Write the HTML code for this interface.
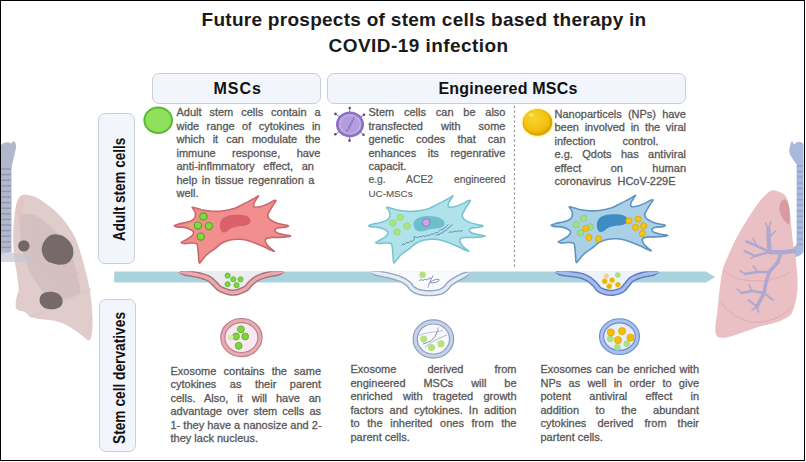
<!DOCTYPE html>
<html><head><meta charset="utf-8">
<style>
html,body{margin:0;padding:0;background:#fff;}
body{width:806px;height:462px;position:relative;overflow:hidden;font-family:"Liberation Sans",sans-serif;}
.frame{position:absolute;left:0;top:0;width:805px;height:461px;box-sizing:border-box;border:1px solid #000;z-index:10;pointer-events:none;}
.t{position:absolute;white-space:nowrap;font-weight:bold;color:#1a1a1a;font-size:19px;}
.hbox{position:absolute;box-sizing:border-box;border:1.5px solid #c9ced8;background:#f2f6fc;border-radius:7px;}
.hl{position:absolute;white-space:nowrap;font-weight:bold;color:#111;font-size:16px;}
.vl{position:absolute;white-space:nowrap;font-weight:bold;color:#111;font-size:16.5px;line-height:19px;transform-origin:0 0;}
.p{position:absolute;color:#555;font-size:11px;line-height:13.5px;-webkit-text-stroke:0.3px #5c5c5c;}
.p div{white-space:nowrap;height:13.5px;}
.p .j{text-align:justify;text-align-last:justify;}
svg{position:absolute;left:0;top:0;}
</style></head><body>
<svg width="806" height="462" viewBox="0 0 806 462">
<defs>
<path id="cell" d="M174.3,225.5 C174.6,225.0 176.7,224.5 178.6,224.0 C180.5,223.5 183.6,223.2 185.7,222.6 C187.8,222.0 189.9,221.5 191.4,220.7 C192.9,219.9 194.1,218.8 194.8,217.6 C195.5,216.4 195.5,214.8 195.4,213.5 C195.3,212.2 194.6,211.1 194.0,210.0 C193.4,208.9 191.8,207.5 192.1,207.2 C192.3,206.9 193.9,207.6 195.5,208.0 C197.1,208.4 199.5,209.2 201.4,209.7 C203.3,210.1 204.8,210.4 207.1,210.7 C209.4,211.0 212.2,211.4 215.0,211.4 C217.8,211.4 220.8,211.3 224.0,210.8 C227.2,210.3 231.3,209.4 234.0,208.6 C236.7,207.8 238.1,206.8 240.0,205.8 C241.9,204.9 243.8,203.9 245.7,202.9 C247.6,201.9 249.8,200.9 251.5,200.0 C253.2,199.1 254.9,197.9 256.1,197.2 C257.3,196.5 258.5,195.5 258.6,195.8 C258.7,196.1 257.2,198.0 256.5,199.0 C255.8,200.0 255.1,201.0 254.6,202.0 C254.1,203.0 253.6,204.3 253.6,205.2 C253.6,206.1 253.6,207.0 254.8,207.2 C256.0,207.4 258.4,207.2 260.7,206.6 C263.0,206.0 266.6,204.4 268.7,203.4 C270.8,202.4 272.3,201.3 273.5,200.8 C274.7,200.3 275.8,200.2 276.0,200.5 C276.2,200.8 275.4,201.7 274.8,202.6 C274.2,203.5 273.3,204.7 272.5,206.0 C271.7,207.3 270.7,209.0 269.9,210.4 C269.1,211.8 268.2,213.1 267.9,214.3 C267.6,215.5 267.8,216.4 268.3,217.4 C268.8,218.4 269.4,219.3 271.0,220.3 C272.6,221.3 275.4,222.6 277.9,223.4 C280.4,224.2 284.1,224.7 285.9,225.1 C287.7,225.5 288.6,225.7 288.6,226.0 C288.6,226.3 287.5,226.8 285.9,227.1 C284.3,227.4 280.7,227.4 279.0,227.7 C277.3,228.0 276.2,228.4 275.5,228.9 C274.8,229.4 274.6,230.1 275.0,230.8 C275.4,231.5 276.1,232.6 277.9,233.3 C279.7,234.0 283.8,234.6 285.9,235.0 C288.0,235.4 290.8,235.6 290.8,235.9 C290.8,236.2 288.0,236.7 285.9,236.9 C283.8,237.2 280.6,237.3 277.9,237.4 C275.2,237.5 272.0,237.2 269.9,237.6 C267.8,237.9 266.0,238.5 265.4,239.5 C264.8,240.5 265.7,242.4 266.5,243.8 C267.3,245.2 268.7,246.6 270.0,247.8 C271.3,249.0 274.4,250.9 274.4,251.2 C274.4,251.5 271.7,250.5 270.0,249.8 C268.3,249.1 266.0,247.7 264.0,246.8 C262.0,245.9 260.4,245.2 258.0,244.2 C255.6,243.2 252.6,241.7 249.5,240.9 C246.4,240.1 242.9,239.5 239.7,239.3 C236.4,239.2 232.9,239.4 230.0,240.0 C227.1,240.6 224.5,241.6 222.0,243.0 C219.5,244.4 217.5,246.7 215.0,248.6 C212.5,250.5 209.2,252.4 207.1,254.3 C204.9,256.2 203.4,258.6 202.1,260.0 C200.8,261.4 199.9,263.5 199.3,263.0 C198.7,262.5 198.8,259.5 198.6,257.1 C198.4,254.7 198.2,250.8 197.9,248.6 C197.6,246.3 197.7,244.5 196.6,243.6 C195.5,242.7 193.4,243.0 191.4,243.0 C189.4,243.0 186.0,243.7 184.3,243.6 C182.6,243.5 181.1,242.9 181.3,242.3 C181.5,241.7 184.0,241.0 185.7,240.0 C187.4,239.0 190.1,237.7 191.4,236.4 C192.7,235.1 193.8,233.6 193.6,232.4 C193.4,231.2 191.6,230.1 190.0,229.3 C188.4,228.5 186.5,227.8 184.3,227.4 C182.2,227.0 178.8,227.2 177.1,226.9 C175.4,226.6 174.1,226.0 174.3,225.5 Z"/>
<path id="nuc" d="M220.3,229.0 C219.9,227.5 219.6,225.3 220.0,223.5 C220.4,221.7 221.3,219.7 222.8,218.3 C224.3,217.0 226.5,216.0 229.0,215.4 C231.5,214.8 235.2,214.7 238.0,214.8 C240.8,214.9 243.9,215.1 246.0,215.8 C248.1,216.6 249.7,218.1 250.3,219.3 C250.9,220.6 250.6,222.3 249.8,223.3 C249.0,224.3 247.4,224.9 245.5,225.4 C243.6,225.9 240.8,225.8 238.5,226.3 C236.2,226.8 233.5,227.3 231.5,228.2 C229.5,229.1 228.0,231.1 226.5,231.8 C225.0,232.5 223.5,232.8 222.5,232.3 C221.5,231.8 220.7,230.5 220.3,229.0 Z"/>
<radialGradient id="np" cx="0.4" cy="0.35" r="0.7">
 <stop offset="0" stop-color="#f9d330"/><stop offset="0.75" stop-color="#f2c010"/><stop offset="1" stop-color="#e6b000"/>
</radialGradient>
<clipPath id="below"><rect x="100" y="271.2" width="620" height="40"/></clipPath>
<filter id="soft" x="-20%" y="-20%" width="140%" height="140%"><feGaussianBlur stdDeviation="0.45"/></filter>
</defs>
<!-- arrow bar -->
<path d="M114.2,271.6 L706,271.6 L715.2,277.1 L706,282.6 L114.2,282.6 Z" fill="#a9d3dc"/>
<!-- dashed line -->
<line x1="514.5" y1="106" x2="514.5" y2="267" stroke="#8a8a8a" stroke-width="1.2" stroke-dasharray="2 2.8"/>

<!-- red cell -->
<g>
 <use href="#cell" fill="#f28e8e" stroke="#c9686e" stroke-width="1.6"/>
 <use href="#nuc" fill="#d9626a"/>
 <ellipse cx="192" cy="225.5" rx="4" ry="3" fill="#e0b07a" opacity="0.7"/>
 <g fill="#82da3a" stroke="#55a32c" stroke-width="1.2">
  <circle cx="203.3" cy="216.4" r="3.6"/><circle cx="197.9" cy="225.6" r="3.6"/><circle cx="208.9" cy="226.1" r="3.6"/><circle cx="200.8" cy="236.6" r="3.6"/>
 </g>
</g>
<!-- cyan cell -->
<g transform="translate(194.5,0)">
 <use href="#cell" fill="#b0e2eb" stroke="#74c3cf" stroke-width="1.5"/>
 <path d="M219.5,227 C217,220 224,216 233,216 C243,216 251,219 250,224 C249,229 243,228 237,229 C231,230 223,235 219.5,227 Z" fill="#6dbfcb"/>
 <g fill="#a8e484" stroke="#98da74" stroke-width="0.9">
  <circle cx="205.7" cy="217.4" r="3.3"/><circle cx="198.4" cy="222.9" r="3.3"/><circle cx="212.5" cy="225.9" r="3.3"/><circle cx="202.5" cy="232" r="3.3"/>
 </g>
 <circle cx="231.7" cy="222.5" r="3.9" fill="#c9a6e6" stroke="#9a72c4" stroke-width="1"/>
 <path d="M207,245.5 L208.5,244 L210,244.5 L212,242.5 L214,243 L216,241 L218,241.5 L219.5,240 C221,238.5 218,237.5 219.5,236.8 C221,236.3 222.5,238 223.5,237.5 L225.5,236.2 L227,237 L229,235.8 L231,236.4 L233,235 L235,235.6 L237,234 L239,234.3 L241,232.6 L243,232.8 L245,231 L246.5,229.5 L248,229.8 L249.5,227.8 L251,227.5 L252.5,225.5 L254,224.5 M241,236 L243,234.5 L244.5,235 L246,233 L248,233.2 L249.5,231 L251.5,230.5 L253,228.5 L255,227.5 L256.5,225.5 L258,224.5 M254,232.6 L256,231.8 L258,232.2 L260,231.2 L262,231.6 L264,230.8 L266,231.2 L268.5,230.6" fill="none" stroke="#3f7190" stroke-width="0.7"/>
</g>
<!-- blue cell -->
<g transform="translate(377,-0.5)">
 <use href="#cell" fill="#aad0e8" stroke="#5e95c0" stroke-width="1.6"/>
 <use href="#nuc" fill="#3d8cc3"/>
 <g fill="#9ee08a" stroke="#8acb7a" stroke-width="0.9">
  <circle cx="206.5" cy="218.8" r="3.2"/><circle cx="199.2" cy="225.3" r="3.2"/><circle cx="213" cy="227.4" r="3.2"/><circle cx="203.3" cy="233.4" r="3.2"/>
 </g>
 <g fill="#f3c416" stroke="#e0a800" stroke-width="0.9">
  <circle cx="208.6" cy="229" r="3.1"/><circle cx="211.9" cy="238" r="3.1"/><circle cx="221.6" cy="239.4" r="3.1"/><circle cx="252" cy="221.2" r="3.1"/><circle cx="261.2" cy="219.6" r="3.1"/><circle cx="258.5" cy="228" r="3.1"/><circle cx="266.6" cy="226.4" r="3.1"/><circle cx="265.3" cy="234" r="3.1"/>
 </g>
</g>

<!-- buds -->
<g clip-path="url(#below)">
 <path d="M178.0,272.2 C180.0,272.4 186.2,273.0 190.0,273.6 C193.8,274.2 197.8,274.9 201.0,275.8 C204.2,276.7 206.8,277.5 209.0,278.8 C211.2,280.1 212.6,281.8 214.5,283.5 C216.4,285.2 217.4,287.5 220.5,289.0 C223.6,290.5 228.8,292.7 232.9,292.7 C237.0,292.7 242.1,290.5 245.0,289.0 C247.9,287.5 248.7,285.2 250.5,283.5 C252.3,281.8 253.8,280.3 256.0,279.0 C258.2,277.7 261.0,276.5 264.0,275.6 C267.0,274.7 270.5,274.0 274.0,273.4 C277.5,272.8 283.2,272.4 285.0,272.2 L285.0,271 L178.0,271 Z" fill="#ececf0"/>
 <path d="M178.00,272.20 L178.55,272.59 L179.24,273.06 L180.06,273.60 L180.98,274.18 L181.98,274.75 L183.04,275.28 L184.15,275.73 L185.27,276.07 L186.40,276.29 L187.51,276.43 L188.55,276.57 L189.52,276.71 L190.46,276.86 L191.41,277.02 L192.35,277.18 L193.29,277.34 L194.23,277.52 L195.15,277.69 L196.05,277.87 L196.93,278.06 L197.79,278.25 L198.61,278.44 L199.41,278.64 L200.18,278.84 L200.92,279.05 L201.65,279.26 L202.35,279.47 L203.01,279.68 L203.65,279.89 L204.27,280.10 L204.85,280.32 L205.41,280.55 L205.95,280.78 L206.47,281.02 L206.96,281.28 L207.43,281.53 L207.85,281.78 L208.23,282.04 L208.60,282.32 L208.97,282.62 L209.34,282.95 L209.72,283.29 L210.11,283.67 L210.52,284.06 L210.95,284.48 L211.40,284.93 L211.89,285.39 L212.36,285.81 L212.74,286.17 L213.08,286.53 L213.44,286.93 L213.83,287.39 L214.26,287.89 L214.74,288.43 L215.27,289.00 L215.87,289.59 L216.55,290.18 L217.31,290.75 L218.16,291.31 L219.06,291.80 L219.96,292.24 L220.91,292.68 L221.93,293.13 L223.01,293.57 L224.15,294.00 L225.33,294.41 L226.54,294.80 L227.78,295.14 L229.05,295.42 L230.32,295.65 L231.61,295.80 L232.90,295.85 L234.19,295.80 L235.47,295.65 L236.74,295.42 L237.98,295.13 L239.20,294.79 L240.40,294.41 L241.55,293.99 L242.66,293.56 L243.71,293.11 L244.70,292.66 L245.62,292.22 L246.50,291.77 L247.38,291.26 L248.20,290.68 L248.94,290.08 L249.58,289.46 L250.13,288.86 L250.62,288.27 L251.04,287.73 L251.41,287.24 L251.75,286.80 L252.06,286.42 L252.34,286.10 L252.67,285.78 L253.09,285.40 L253.54,284.98 L253.96,284.58 L254.37,284.20 L254.77,283.84 L255.16,283.50 L255.54,283.17 L255.93,282.86 L256.32,282.56 L256.72,282.27 L257.14,281.99 L257.60,281.71 L258.10,281.43 L258.63,281.15 L259.18,280.87 L259.75,280.59 L260.34,280.32 L260.95,280.06 L261.57,279.80 L262.22,279.55 L262.88,279.30 L263.55,279.06 L264.24,278.83 L264.93,278.61 L265.64,278.40 L266.37,278.19 L267.12,277.99 L267.89,277.80 L268.67,277.62 L269.47,277.44 L270.29,277.27 L271.12,277.11 L271.95,276.95 L272.80,276.80 L273.65,276.65 L274.49,276.51 L275.36,276.38 L276.30,276.25 L277.30,276.09 L278.32,275.83 L279.35,275.47 L280.36,275.03 L281.33,274.53 L282.25,274.00 L283.10,273.47 L283.85,272.98 L284.49,272.55 L285.00,272.20 L285.00,272.20 L284.44,271.96 L283.73,271.66 L282.90,271.31 L281.97,270.95 L280.96,270.60 L279.89,270.30 L278.79,270.07 L277.68,269.93 L276.57,269.91 L275.50,270.00 L274.47,270.14 L273.51,270.29 L272.60,270.44 L271.71,270.59 L270.81,270.75 L269.92,270.92 L269.03,271.10 L268.15,271.28 L267.28,271.48 L266.41,271.68 L265.56,271.89 L264.71,272.11 L263.88,272.35 L263.07,272.59 L262.27,272.84 L261.49,273.11 L260.73,273.38 L259.97,273.66 L259.22,273.95 L258.49,274.26 L257.77,274.57 L257.07,274.89 L256.38,275.22 L255.71,275.56 L255.05,275.92 L254.40,276.29 L253.76,276.68 L253.15,277.08 L252.58,277.49 L252.03,277.91 L251.52,278.32 L251.03,278.74 L250.56,279.16 L250.11,279.57 L249.67,279.97 L249.24,280.38 L248.81,280.77 L248.33,281.22 L247.78,281.75 L247.26,282.34 L246.81,282.89 L246.41,283.41 L246.04,283.89 L245.71,284.33 L245.39,284.71 L245.07,285.06 L244.74,285.38 L244.39,285.67 L244.00,285.94 L243.50,286.23 L242.83,286.57 L242.04,286.95 L241.18,287.34 L240.28,287.72 L239.33,288.10 L238.37,288.44 L237.39,288.76 L236.42,289.03 L235.47,289.25 L234.55,289.42 L233.69,289.52 L232.90,289.55 L232.10,289.52 L231.23,289.42 L230.30,289.25 L229.32,289.03 L228.32,288.75 L227.31,288.44 L226.31,288.08 L225.33,287.71 L224.39,287.32 L223.49,286.93 L222.66,286.55 L221.94,286.20 L221.39,285.90 L220.94,285.60 L220.53,285.29 L220.14,284.95 L219.77,284.59 L219.40,284.19 L219.02,283.76 L218.62,283.29 L218.19,282.79 L217.71,282.26 L217.18,281.70 L216.64,281.19 L216.17,280.76 L215.76,280.38 L215.35,279.97 L214.92,279.56 L214.49,279.13 L214.03,278.69 L213.54,278.25 L213.03,277.80 L212.47,277.35 L211.88,276.91 L211.24,276.48 L210.57,276.07 L209.90,275.70 L209.22,275.36 L208.54,275.04 L207.84,274.74 L207.14,274.45 L206.42,274.18 L205.69,273.93 L204.95,273.68 L204.19,273.44 L203.42,273.21 L202.64,272.99 L201.82,272.76 L200.97,272.53 L200.09,272.32 L199.18,272.10 L198.26,271.90 L197.31,271.70 L196.35,271.51 L195.39,271.32 L194.41,271.14 L193.43,270.97 L192.44,270.80 L191.46,270.64 L190.48,270.49 L189.44,270.33 L188.33,270.18 L187.17,270.04 L185.99,269.98 L184.78,270.05 L183.59,270.25 L182.42,270.54 L181.32,270.89 L180.30,271.26 L179.39,271.63 L178.62,271.95 L178.00,272.20 Z" fill="#aa717a"/>
 <path d="M178.00,272.20 L178.57,272.41 L179.28,272.66 L180.13,272.95 L181.07,273.27 L182.10,273.60 L183.19,273.93 L184.31,274.24 L185.45,274.52 L186.59,274.77 L187.70,274.97 L188.76,275.13 L189.74,275.28 L190.69,275.43 L191.65,275.59 L192.60,275.75 L193.55,275.92 L194.49,276.09 L195.42,276.27 L196.34,276.45 L197.23,276.64 L198.11,276.83 L198.95,277.03 L199.77,277.23 L200.56,277.44 L201.32,277.65 L202.06,277.87 L202.77,278.08 L203.46,278.30 L204.12,278.52 L204.76,278.74 L205.38,278.97 L205.97,279.21 L206.55,279.46 L207.10,279.72 L207.64,279.99 L208.15,280.27 L208.63,280.56 L209.07,280.86 L209.49,281.18 L209.91,281.51 L210.31,281.86 L210.71,282.23 L211.12,282.62 L211.53,283.03 L211.96,283.45 L212.41,283.88 L212.88,284.32 L213.34,284.75 L213.76,285.14 L214.15,285.54 L214.53,285.98 L214.93,286.45 L215.36,286.94 L215.81,287.46 L216.31,287.99 L216.86,288.52 L217.47,289.05 L218.15,289.57 L218.90,290.06 L219.72,290.51 L220.58,290.93 L221.50,291.36 L222.49,291.79 L223.55,292.22 L224.65,292.64 L225.78,293.04 L226.95,293.41 L228.14,293.73 L229.33,294.00 L230.53,294.21 L231.72,294.35 L232.90,294.40 L234.07,294.35 L235.26,294.21 L236.44,294.00 L237.62,293.73 L238.79,293.40 L239.93,293.03 L241.04,292.64 L242.11,292.21 L243.13,291.78 L244.09,291.35 L244.98,290.92 L245.81,290.50 L246.60,290.04 L247.33,289.53 L247.97,289.00 L248.54,288.45 L249.04,287.90 L249.49,287.37 L249.89,286.85 L250.26,286.36 L250.61,285.90 L250.95,285.48 L251.29,285.10 L251.67,284.73 L252.10,284.33 L252.55,283.92 L252.97,283.52 L253.39,283.14 L253.80,282.76 L254.21,282.40 L254.62,282.05 L255.03,281.72 L255.46,281.39 L255.90,281.08 L256.37,280.77 L256.86,280.46 L257.40,280.16 L257.95,279.86 L258.53,279.57 L259.13,279.28 L259.75,279.00 L260.38,278.72 L261.03,278.45 L261.70,278.19 L262.38,277.94 L263.08,277.69 L263.78,277.45 L264.50,277.22 L265.23,277.00 L265.99,276.79 L266.76,276.59 L267.55,276.39 L268.35,276.21 L269.17,276.02 L270.00,275.85 L270.84,275.68 L271.69,275.52 L272.55,275.37 L273.41,275.22 L274.27,275.08 L275.16,274.93 L276.11,274.76 L277.12,274.55 L278.16,274.31 L279.20,274.04 L280.23,273.75 L281.23,273.45 L282.17,273.16 L283.04,272.87 L283.82,272.61 L284.48,272.38 L285.00,272.20 L285.00,272.20 L284.45,272.13 L283.76,272.03 L282.96,271.91 L282.05,271.79 L281.06,271.68 L280.02,271.57 L278.94,271.50 L277.84,271.46 L276.76,271.46 L275.69,271.50 L274.68,271.59 L273.73,271.72 L272.84,271.87 L271.96,272.02 L271.07,272.18 L270.20,272.35 L269.32,272.52 L268.46,272.70 L267.60,272.89 L266.75,273.09 L265.91,273.30 L265.09,273.51 L264.29,273.74 L263.50,273.98 L262.73,274.22 L261.97,274.48 L261.22,274.74 L260.49,275.02 L259.76,275.30 L259.06,275.59 L258.36,275.89 L257.68,276.20 L257.02,276.52 L256.38,276.85 L255.75,277.19 L255.14,277.54 L254.54,277.90 L253.98,278.27 L253.44,278.66 L252.93,279.05 L252.44,279.44 L251.98,279.84 L251.53,280.23 L251.09,280.63 L250.66,281.03 L250.23,281.44 L249.80,281.84 L249.33,282.27 L248.83,282.75 L248.37,283.28 L247.95,283.79 L247.56,284.29 L247.19,284.78 L246.84,285.23 L246.48,285.67 L246.11,286.08 L245.71,286.46 L245.27,286.82 L244.78,287.17 L244.19,287.50 L243.47,287.87 L242.65,288.27 L241.76,288.67 L240.82,289.07 L239.84,289.45 L238.83,289.82 L237.81,290.15 L236.78,290.43 L235.76,290.67 L234.76,290.85 L233.81,290.96 L232.90,291.00 L231.99,290.96 L231.02,290.85 L230.01,290.67 L228.97,290.43 L227.91,290.14 L226.85,289.81 L225.81,289.45 L224.80,289.06 L223.82,288.66 L222.90,288.26 L222.04,287.86 L221.28,287.49 L220.65,287.14 L220.10,286.79 L219.61,286.41 L219.16,286.02 L218.74,285.61 L218.33,285.17 L217.92,284.71 L217.52,284.24 L217.10,283.74 L216.65,283.24 L216.16,282.73 L215.66,282.25 L215.19,281.83 L214.76,281.42 L214.34,281.01 L213.91,280.60 L213.48,280.18 L213.04,279.75 L212.58,279.33 L212.09,278.91 L211.58,278.50 L211.04,278.09 L210.46,277.70 L209.85,277.33 L209.22,276.98 L208.59,276.66 L207.94,276.36 L207.29,276.08 L206.61,275.80 L205.93,275.55 L205.22,275.30 L204.50,275.06 L203.77,274.83 L203.01,274.60 L202.24,274.38 L201.44,274.16 L200.61,273.94 L199.75,273.73 L198.86,273.52 L197.95,273.32 L197.02,273.12 L196.08,272.93 L195.12,272.75 L194.15,272.57 L193.18,272.40 L192.21,272.23 L191.23,272.07 L190.26,271.92 L189.24,271.77 L188.14,271.64 L186.99,271.55 L185.81,271.52 L184.61,271.54 L183.44,271.59 L182.30,271.68 L181.23,271.79 L180.23,271.91 L179.35,272.03 L178.60,272.12 L178.00,272.20 Z" fill="#eba8ad"/>
 <g fill="#7fd63c" stroke="#5cb82c" stroke-width="0.8"><circle cx="227.6" cy="275.6" r="2.6"/><circle cx="233.3" cy="279.3" r="2.6"/><circle cx="240.5" cy="279.3" r="2.6"/><circle cx="227.6" cy="284.2" r="2.6"/><circle cx="236.6" cy="285.2" r="2.6"/></g>
</g>
<g clip-path="url(#below)">
 <path d="M369.5,272.0 C371.8,272.4 378.8,273.4 383.0,274.3 C387.2,275.2 391.7,276.2 395.0,277.2 C398.3,278.2 400.8,279.2 403.0,280.3 C405.2,281.4 406.9,282.6 408.5,284.0 C410.1,285.4 410.8,287.3 412.5,288.6 C414.2,289.9 416.2,291.2 419.0,292.0 C421.8,292.8 425.6,293.2 429.0,293.2 C432.4,293.2 436.8,292.8 439.5,292.0 C442.2,291.2 443.8,289.9 445.5,288.6 C447.2,287.3 447.9,285.4 449.5,284.0 C451.1,282.6 452.9,281.3 455.0,280.0 C457.1,278.7 459.3,277.6 462.0,276.3 C464.7,275.0 469.5,272.7 471.0,272.0 L471.0,271 L369.5,271 Z" fill="#f8fafc"/>
 <path d="M369.50,272.00 L370.10,272.47 L370.86,273.05 L371.75,273.71 L372.76,274.40 L373.87,275.08 L375.06,275.68 L376.30,276.17 L377.58,276.51 L378.87,276.73 L380.11,276.95 L381.29,277.17 L382.38,277.39 L383.42,277.60 L384.47,277.83 L385.52,278.05 L386.56,278.29 L387.59,278.52 L388.61,278.76 L389.60,279.01 L390.57,279.25 L391.51,279.49 L392.41,279.74 L393.28,279.98 L394.10,280.22 L394.87,280.46 L395.62,280.69 L396.32,280.93 L397.00,281.16 L397.64,281.40 L398.26,281.63 L398.86,281.87 L399.43,282.11 L399.99,282.35 L400.53,282.60 L401.06,282.85 L401.58,283.11 L402.08,283.37 L402.54,283.62 L402.99,283.88 L403.42,284.14 L403.83,284.40 L404.23,284.66 L404.61,284.93 L404.98,285.20 L405.35,285.48 L405.71,285.77 L406.07,286.07 L406.39,286.34 L406.64,286.58 L406.86,286.81 L407.09,287.08 L407.33,287.40 L407.60,287.76 L407.89,288.17 L408.21,288.61 L408.57,289.08 L408.98,289.58 L409.45,290.09 L409.99,290.61 L410.55,291.07 L411.07,291.47 L411.58,291.83 L412.11,292.20 L412.66,292.56 L413.24,292.92 L413.85,293.27 L414.49,293.61 L415.16,293.93 L415.86,294.24 L416.59,294.53 L417.36,294.79 L418.15,295.03 L418.96,295.25 L419.80,295.44 L420.67,295.61 L421.55,295.76 L422.46,295.90 L423.38,296.02 L424.31,296.12 L425.25,296.20 L426.20,296.26 L427.14,296.31 L428.07,296.34 L429.00,296.35 L429.94,296.34 L430.90,296.31 L431.87,296.27 L432.86,296.20 L433.86,296.12 L434.85,296.02 L435.82,295.90 L436.79,295.77 L437.72,295.61 L438.63,295.44 L439.51,295.25 L440.35,295.03 L441.16,294.79 L441.92,294.51 L442.64,294.21 L443.33,293.89 L443.96,293.55 L444.56,293.19 L445.12,292.83 L445.65,292.47 L446.14,292.10 L446.60,291.75 L447.04,291.40 L447.51,291.02 L448.03,290.57 L448.54,290.08 L448.99,289.58 L449.38,289.10 L449.74,288.65 L450.06,288.21 L450.36,287.82 L450.63,287.45 L450.89,287.12 L451.13,286.83 L451.37,286.57 L451.64,286.31 L451.97,286.02 L452.33,285.72 L452.70,285.41 L453.09,285.10 L453.49,284.80 L453.90,284.50 L454.33,284.20 L454.77,283.90 L455.22,283.59 L455.68,283.29 L456.16,282.99 L456.65,282.69 L457.13,282.39 L457.62,282.11 L458.13,281.82 L458.65,281.54 L459.18,281.25 L459.73,280.97 L460.30,280.68 L460.88,280.38 L461.48,280.08 L462.11,279.77 L462.75,279.45 L463.40,279.12 L464.10,278.78 L464.85,278.38 L465.63,277.89 L466.41,277.31 L467.17,276.65 L467.89,275.93 L468.57,275.17 L469.19,274.41 L469.76,273.69 L470.26,273.02 L470.67,272.45 L471.00,272.00 L471.00,272.00 L470.44,271.97 L469.74,271.93 L468.91,271.89 L467.99,271.86 L467.00,271.86 L465.99,271.91 L464.96,272.01 L463.96,272.19 L463.01,272.44 L462.12,272.75 L461.32,273.12 L460.60,273.48 L459.94,273.81 L459.30,274.13 L458.67,274.44 L458.05,274.75 L457.44,275.06 L456.83,275.37 L456.24,275.68 L455.65,276.00 L455.07,276.31 L454.49,276.64 L453.92,276.97 L453.35,277.31 L452.81,277.65 L452.27,277.99 L451.75,278.34 L451.23,278.68 L450.72,279.03 L450.22,279.39 L449.73,279.75 L449.24,280.12 L448.77,280.49 L448.30,280.87 L447.84,281.27 L447.36,281.69 L446.87,282.16 L446.41,282.66 L446.00,283.15 L445.63,283.62 L445.30,284.05 L445.00,284.46 L444.73,284.83 L444.47,285.16 L444.23,285.46 L443.99,285.71 L443.77,285.94 L443.49,286.18 L443.12,286.47 L442.73,286.78 L442.35,287.07 L441.98,287.34 L441.62,287.60 L441.25,287.83 L440.88,288.05 L440.49,288.26 L440.08,288.46 L439.65,288.64 L439.17,288.81 L438.65,288.97 L438.05,289.12 L437.38,289.27 L436.63,289.41 L435.84,289.54 L435.01,289.65 L434.15,289.76 L433.28,289.84 L432.40,289.92 L431.52,289.98 L430.65,290.02 L429.81,290.04 L429.00,290.05 L428.20,290.04 L427.39,290.02 L426.57,289.98 L425.75,289.92 L424.93,289.85 L424.12,289.76 L423.33,289.66 L422.56,289.54 L421.82,289.41 L421.11,289.27 L420.45,289.12 L419.85,288.97 L419.30,288.80 L418.78,288.62 L418.28,288.42 L417.80,288.21 L417.34,287.99 L416.90,287.75 L416.46,287.51 L416.04,287.25 L415.63,286.97 L415.22,286.69 L414.81,286.40 L414.45,286.13 L414.18,285.90 L413.96,285.69 L413.74,285.45 L413.50,285.16 L413.26,284.84 L412.99,284.47 L412.70,284.06 L412.37,283.62 L412.00,283.14 L411.59,282.65 L411.11,282.13 L410.61,281.66 L410.13,281.25 L409.69,280.88 L409.23,280.51 L408.76,280.15 L408.27,279.80 L407.77,279.45 L407.26,279.11 L406.73,278.78 L406.18,278.44 L405.61,278.12 L405.03,277.80 L404.42,277.49 L403.81,277.19 L403.19,276.89 L402.55,276.60 L401.90,276.32 L401.24,276.04 L400.55,275.77 L399.84,275.50 L399.11,275.23 L398.36,274.97 L397.57,274.70 L396.75,274.44 L395.90,274.18 L395.01,273.92 L394.08,273.66 L393.12,273.40 L392.13,273.14 L391.12,272.89 L390.08,272.64 L389.02,272.39 L387.95,272.14 L386.88,271.90 L385.79,271.67 L384.71,271.44 L383.62,271.21 L382.48,270.99 L381.25,270.76 L379.96,270.53 L378.64,270.30 L377.30,270.20 L375.94,270.26 L374.62,270.45 L373.35,270.75 L372.17,271.09 L371.12,271.44 L370.22,271.75 L369.50,272.00 Z" fill="#9aa6bf"/>
 <path d="M369.50,272.00 L370.13,272.27 L370.93,272.60 L371.87,272.98 L372.92,273.40 L374.07,273.83 L375.29,274.25 L376.55,274.64 L377.84,274.99 L379.12,275.29 L380.38,275.53 L381.56,275.75 L382.66,275.97 L383.72,276.18 L384.78,276.41 L385.83,276.64 L386.88,276.87 L387.92,277.11 L388.95,277.35 L389.95,277.60 L390.93,277.84 L391.88,278.09 L392.80,278.34 L393.68,278.58 L394.51,278.83 L395.31,279.07 L396.07,279.31 L396.79,279.56 L397.48,279.80 L398.15,280.04 L398.79,280.28 L399.40,280.53 L400.00,280.78 L400.58,281.03 L401.14,281.29 L401.69,281.55 L402.23,281.82 L402.75,282.09 L403.25,282.36 L403.73,282.63 L404.18,282.90 L404.62,283.18 L405.04,283.46 L405.45,283.75 L405.85,284.04 L406.24,284.34 L406.63,284.64 L407.01,284.96 L407.36,285.26 L407.67,285.55 L407.95,285.85 L408.22,286.18 L408.49,286.53 L408.77,286.91 L409.06,287.32 L409.37,287.74 L409.71,288.18 L410.08,288.63 L410.49,289.08 L410.95,289.52 L411.45,289.94 L411.93,290.30 L412.42,290.65 L412.92,291.00 L413.44,291.34 L413.98,291.67 L414.55,292.00 L415.15,292.32 L415.77,292.62 L416.42,292.90 L417.10,293.17 L417.80,293.41 L418.54,293.64 L419.31,293.84 L420.10,294.02 L420.93,294.18 L421.78,294.33 L422.66,294.46 L423.55,294.58 L424.45,294.67 L425.37,294.75 L426.28,294.82 L427.20,294.86 L428.10,294.89 L429.00,294.90 L429.91,294.89 L430.84,294.86 L431.79,294.82 L432.76,294.75 L433.72,294.67 L434.69,294.58 L435.64,294.46 L436.57,294.33 L437.47,294.19 L438.34,294.02 L439.17,293.84 L439.96,293.64 L440.70,293.41 L441.40,293.16 L442.05,292.89 L442.67,292.59 L443.25,292.28 L443.80,291.96 L444.32,291.63 L444.80,291.29 L445.27,290.94 L445.71,290.60 L446.14,290.26 L446.59,289.91 L447.05,289.51 L447.49,289.07 L447.89,288.63 L448.25,288.20 L448.59,287.77 L448.90,287.35 L449.19,286.95 L449.48,286.57 L449.76,286.21 L450.04,285.87 L450.34,285.56 L450.65,285.25 L451.02,284.93 L451.40,284.60 L451.80,284.28 L452.21,283.96 L452.62,283.64 L453.06,283.32 L453.50,283.01 L453.95,282.70 L454.42,282.38 L454.90,282.07 L455.39,281.76 L455.89,281.45 L456.39,281.15 L456.90,280.85 L457.42,280.55 L457.96,280.26 L458.50,279.97 L459.06,279.68 L459.64,279.38 L460.23,279.08 L460.83,278.78 L461.46,278.47 L462.10,278.15 L462.75,277.81 L463.43,277.42 L464.18,276.99 L464.96,276.50 L465.77,275.97 L466.58,275.41 L467.37,274.84 L468.14,274.26 L468.86,273.71 L469.52,273.19 L470.11,272.72 L470.61,272.32 L471.00,272.00 L471.00,272.00 L470.51,272.10 L469.88,272.23 L469.15,272.39 L468.32,272.57 L467.43,272.77 L466.50,273.00 L465.55,273.25 L464.60,273.53 L463.68,273.83 L462.80,274.15 L461.98,274.47 L461.25,274.79 L460.58,275.11 L459.94,275.43 L459.31,275.74 L458.70,276.05 L458.09,276.35 L457.50,276.66 L456.92,276.96 L456.34,277.27 L455.77,277.58 L455.21,277.90 L454.66,278.22 L454.11,278.55 L453.58,278.88 L453.06,279.21 L452.55,279.55 L452.05,279.88 L451.55,280.22 L451.07,280.56 L450.59,280.91 L450.13,281.27 L449.67,281.62 L449.22,281.99 L448.79,282.36 L448.35,282.75 L447.91,283.18 L447.49,283.62 L447.12,284.06 L446.78,284.50 L446.46,284.92 L446.17,285.32 L445.88,285.71 L445.60,286.07 L445.32,286.41 L445.04,286.72 L444.75,287.01 L444.41,287.29 L444.03,287.60 L443.62,287.92 L443.22,288.23 L442.83,288.52 L442.42,288.80 L442.01,289.07 L441.59,289.32 L441.14,289.56 L440.67,289.78 L440.17,289.99 L439.63,290.18 L439.04,290.36 L438.39,290.53 L437.67,290.69 L436.89,290.84 L436.06,290.97 L435.20,291.09 L434.31,291.20 L433.41,291.29 L432.50,291.36 L431.60,291.42 L430.71,291.47 L429.84,291.49 L429.00,291.50 L428.17,291.49 L427.33,291.47 L426.48,291.42 L425.63,291.36 L424.79,291.29 L423.95,291.20 L423.13,291.09 L422.33,290.97 L421.55,290.84 L420.81,290.69 L420.11,290.53 L419.46,290.36 L418.85,290.18 L418.27,289.98 L417.72,289.76 L417.19,289.53 L416.69,289.28 L416.20,289.02 L415.72,288.75 L415.26,288.47 L414.82,288.18 L414.38,287.87 L413.95,287.56 L413.55,287.26 L413.22,286.99 L412.92,286.71 L412.64,286.40 L412.37,286.07 L412.09,285.71 L411.81,285.32 L411.52,284.92 L411.21,284.49 L410.87,284.05 L410.50,283.60 L410.08,283.16 L409.64,282.74 L409.20,282.36 L408.77,282.00 L408.33,281.66 L407.89,281.32 L407.43,280.98 L406.96,280.65 L406.47,280.33 L405.97,280.01 L405.45,279.70 L404.91,279.39 L404.35,279.08 L403.77,278.78 L403.18,278.49 L402.58,278.21 L401.96,277.93 L401.33,277.65 L400.69,277.38 L400.02,277.12 L399.34,276.85 L398.63,276.59 L397.89,276.34 L397.12,276.08 L396.32,275.83 L395.49,275.57 L394.61,275.32 L393.70,275.06 L392.75,274.80 L391.77,274.55 L390.77,274.30 L389.74,274.05 L388.69,273.80 L387.63,273.56 L386.57,273.32 L385.49,273.08 L384.41,272.86 L383.34,272.63 L382.20,272.41 L380.99,272.18 L379.71,271.97 L378.38,271.82 L377.04,271.72 L375.71,271.69 L374.42,271.70 L373.19,271.75 L372.05,271.81 L371.04,271.89 L370.18,271.95 L369.50,272.00 Z" fill="#e0eef8"/>
 <circle cx="422.6" cy="274.8" r="3.2" fill="#b4e080"/>
 <path d="M419,281 L421,279.5 L423,280.5 L425,279 L427,280 L429,278.5 L431,278 M433,275.5 L432,277.5 L431,279 L430.5,281 L429.5,283 L428.5,285.5 L428,287.5 M430,282.5 C433,280 436,279 439,279.5 C440,280.5 438,282 435,282.5 L431,283" stroke="#7f72aa" stroke-width="0.8" fill="none"/>
</g>
<g clip-path="url(#below)">
 <path d="M554.0,272.2 C556.2,272.4 562.7,273.1 567.0,273.6 C571.3,274.2 576.4,274.6 580.0,275.5 C583.6,276.4 586.0,277.5 588.5,279.0 C591.0,280.5 592.8,282.4 594.8,284.3 C596.8,286.2 597.8,288.9 600.5,290.3 C603.2,291.7 607.8,292.9 611.3,292.9 C614.8,292.9 619.0,291.5 621.5,290.2 C624.0,288.9 624.8,287.0 626.5,285.2 C628.2,283.4 629.4,281.0 631.5,279.5 C633.6,278.0 636.2,276.9 639.0,276.0 C641.8,275.1 644.5,274.4 648.0,273.8 C651.5,273.2 658.0,272.5 660.0,272.2 L660.0,271 L554.0,271 Z" fill="#eef3fb"/>
 <path d="M554.00,272.20 L554.59,272.61 L555.34,273.12 L556.21,273.69 L557.19,274.29 L558.27,274.88 L559.41,275.41 L560.62,275.85 L561.85,276.15 L563.10,276.31 L564.32,276.45 L565.50,276.59 L566.61,276.73 L567.72,276.86 L568.85,277.00 L569.99,277.13 L571.13,277.26 L572.26,277.40 L573.37,277.54 L574.47,277.69 L575.52,277.84 L576.54,278.01 L577.50,278.18 L578.40,278.36 L579.24,278.56 L580.03,278.77 L580.79,278.98 L581.50,279.21 L582.18,279.44 L582.82,279.69 L583.44,279.94 L584.04,280.20 L584.62,280.47 L585.19,280.76 L585.76,281.06 L586.32,281.38 L586.87,281.70 L587.39,282.02 L587.87,282.34 L588.34,282.69 L588.80,283.06 L589.27,283.44 L589.73,283.85 L590.20,284.27 L590.67,284.71 L591.14,285.16 L591.63,285.63 L592.13,286.11 L592.59,286.55 L592.97,286.93 L593.30,287.31 L593.65,287.76 L594.03,288.25 L594.43,288.80 L594.87,289.39 L595.37,290.01 L595.93,290.66 L596.57,291.31 L597.29,291.95 L598.12,292.55 L599.01,293.08 L599.91,293.52 L600.83,293.91 L601.79,294.28 L602.79,294.62 L603.81,294.92 L604.87,295.20 L605.93,295.45 L607.01,295.66 L608.10,295.82 L609.18,295.95 L610.25,296.03 L611.32,296.05 L612.39,296.01 L613.47,295.91 L614.53,295.76 L615.58,295.56 L616.61,295.32 L617.63,295.05 L618.61,294.76 L619.56,294.44 L620.47,294.10 L621.34,293.74 L622.16,293.38 L622.95,293.00 L623.74,292.56 L624.48,292.06 L625.15,291.53 L625.75,290.99 L626.27,290.45 L626.74,289.91 L627.15,289.41 L627.52,288.93 L627.86,288.48 L628.18,288.08 L628.49,287.70 L628.85,287.30 L629.30,286.80 L629.76,286.24 L630.18,285.70 L630.58,285.17 L630.97,284.67 L631.33,284.19 L631.69,283.74 L632.03,283.32 L632.37,282.94 L632.71,282.60 L633.04,282.30 L633.38,282.03 L633.78,281.75 L634.22,281.47 L634.70,281.19 L635.20,280.92 L635.73,280.66 L636.28,280.41 L636.86,280.16 L637.46,279.92 L638.08,279.68 L638.71,279.44 L639.36,279.21 L640.02,278.98 L640.66,278.76 L641.30,278.56 L641.95,278.37 L642.60,278.19 L643.27,278.01 L643.95,277.84 L644.66,277.68 L645.38,277.52 L646.13,277.36 L646.91,277.21 L647.72,277.05 L648.55,276.90 L649.44,276.75 L650.43,276.60 L651.51,276.44 L652.63,276.22 L653.76,275.88 L654.88,275.42 L655.96,274.87 L656.98,274.27 L657.92,273.67 L658.75,273.10 L659.45,272.60 L660.00,272.20 L660.00,272.20 L659.37,271.95 L658.57,271.64 L657.63,271.28 L656.58,270.91 L655.44,270.58 L654.24,270.31 L653.03,270.14 L651.81,270.10 L650.63,270.20 L649.50,270.36 L648.43,270.53 L647.45,270.70 L646.56,270.86 L645.71,271.03 L644.87,271.19 L644.06,271.36 L643.27,271.54 L642.48,271.72 L641.71,271.91 L640.95,272.11 L640.20,272.32 L639.46,272.54 L638.71,272.77 L637.98,273.02 L637.26,273.27 L636.56,273.52 L635.85,273.79 L635.14,274.06 L634.43,274.35 L633.72,274.65 L633.02,274.98 L632.32,275.32 L631.63,275.69 L630.95,276.08 L630.28,276.51 L629.62,276.97 L628.96,277.50 L628.34,278.06 L627.78,278.63 L627.26,279.21 L626.79,279.77 L626.36,280.33 L625.95,280.86 L625.56,281.37 L625.20,281.84 L624.85,282.29 L624.52,282.69 L624.15,283.10 L623.71,283.60 L623.27,284.13 L622.88,284.62 L622.53,285.08 L622.21,285.49 L621.91,285.86 L621.63,286.18 L621.36,286.47 L621.08,286.73 L620.78,286.96 L620.46,287.18 L620.05,287.40 L619.51,287.66 L618.88,287.94 L618.19,288.23 L617.46,288.50 L616.69,288.76 L615.90,289.00 L615.10,289.21 L614.29,289.39 L613.50,289.54 L612.72,289.66 L611.98,289.72 L611.28,289.75 L610.56,289.73 L609.77,289.68 L608.95,289.58 L608.10,289.45 L607.23,289.28 L606.37,289.09 L605.52,288.86 L604.70,288.61 L603.92,288.35 L603.19,288.07 L602.53,287.79 L601.99,287.52 L601.57,287.28 L601.23,287.03 L600.90,286.73 L600.56,286.39 L600.22,286.00 L599.86,285.55 L599.49,285.04 L599.08,284.50 L598.64,283.91 L598.15,283.29 L597.59,282.65 L597.01,282.05 L596.48,281.55 L595.99,281.08 L595.49,280.61 L594.99,280.12 L594.46,279.63 L593.92,279.14 L593.35,278.65 L592.77,278.16 L592.15,277.67 L591.50,277.20 L590.82,276.74 L590.13,276.30 L589.44,275.90 L588.77,275.53 L588.08,275.16 L587.37,274.81 L586.65,274.47 L585.90,274.14 L585.12,273.82 L584.32,273.52 L583.48,273.23 L582.62,272.96 L581.71,272.69 L580.76,272.44 L579.74,272.21 L578.68,271.99 L577.59,271.80 L576.48,271.62 L575.34,271.45 L574.19,271.30 L573.03,271.15 L571.87,271.01 L570.72,270.87 L569.59,270.74 L568.48,270.61 L567.39,270.47 L566.25,270.33 L565.04,270.19 L563.79,270.05 L562.52,269.94 L561.23,269.97 L559.96,270.15 L558.72,270.44 L557.55,270.80 L556.46,271.19 L555.49,271.58 L554.66,271.92 L554.00,272.20 Z" fill="#5f7dbd"/>
 <path d="M554.00,272.20 L554.61,272.42 L555.38,272.69 L556.28,273.00 L557.29,273.33 L558.39,273.68 L559.56,274.01 L560.78,274.33 L562.02,274.60 L563.26,274.83 L564.49,275.01 L565.67,275.15 L566.79,275.29 L567.89,275.42 L569.02,275.56 L570.16,275.69 L571.30,275.83 L572.44,275.96 L573.56,276.10 L574.67,276.25 L575.74,276.41 L576.78,276.58 L577.77,276.75 L578.71,276.95 L579.59,277.15 L580.42,277.37 L581.21,277.60 L581.96,277.83 L582.67,278.08 L583.35,278.34 L584.01,278.60 L584.64,278.88 L585.25,279.17 L585.86,279.47 L586.45,279.79 L587.04,280.12 L587.62,280.46 L588.18,280.80 L588.70,281.16 L589.22,281.54 L589.72,281.93 L590.21,282.34 L590.69,282.76 L591.18,283.20 L591.66,283.65 L592.14,284.11 L592.63,284.58 L593.13,285.06 L593.61,285.51 L594.03,285.94 L594.42,286.39 L594.80,286.87 L595.19,287.39 L595.59,287.94 L596.02,288.51 L596.48,289.09 L596.99,289.68 L597.56,290.26 L598.20,290.82 L598.92,291.34 L599.70,291.80 L600.52,292.20 L601.37,292.57 L602.28,292.91 L603.23,293.23 L604.21,293.53 L605.21,293.79 L606.23,294.03 L607.26,294.23 L608.29,294.39 L609.32,294.51 L610.32,294.58 L611.31,294.60 L612.30,294.56 L613.29,294.47 L614.29,294.33 L615.28,294.14 L616.27,293.92 L617.23,293.66 L618.17,293.38 L619.08,293.07 L619.95,292.75 L620.77,292.41 L621.55,292.07 L622.28,291.71 L622.98,291.32 L623.63,290.88 L624.22,290.42 L624.74,289.95 L625.20,289.46 L625.63,288.98 L626.01,288.51 L626.37,288.04 L626.71,287.60 L627.05,287.17 L627.39,286.76 L627.77,286.33 L628.20,285.85 L628.63,285.33 L629.04,284.81 L629.43,284.30 L629.81,283.79 L630.19,283.30 L630.56,282.82 L630.94,282.37 L631.31,281.95 L631.70,281.56 L632.10,281.20 L632.52,280.86 L632.98,280.54 L633.47,280.23 L633.99,279.93 L634.54,279.63 L635.10,279.35 L635.69,279.08 L636.30,278.82 L636.92,278.57 L637.56,278.32 L638.22,278.08 L638.88,277.84 L639.55,277.61 L640.21,277.39 L640.88,277.18 L641.54,276.98 L642.22,276.79 L642.91,276.61 L643.62,276.43 L644.34,276.27 L645.08,276.10 L645.84,275.94 L646.63,275.79 L647.45,275.63 L648.30,275.47 L649.21,275.32 L650.22,275.15 L651.30,274.94 L652.42,274.68 L653.57,274.38 L654.71,274.05 L655.82,273.70 L656.87,273.35 L657.84,273.00 L658.70,272.69 L659.43,272.42 L660.00,272.20 L660.00,272.20 L659.39,272.13 L658.62,272.04 L657.71,271.94 L656.69,271.84 L655.58,271.74 L654.41,271.67 L653.22,271.64 L652.02,271.65 L650.84,271.71 L649.72,271.81 L648.66,271.96 L647.70,272.13 L646.83,272.29 L645.98,272.45 L645.16,272.61 L644.37,272.78 L643.59,272.95 L642.82,273.13 L642.07,273.31 L641.33,273.51 L640.60,273.71 L639.88,273.93 L639.16,274.15 L638.45,274.39 L637.75,274.64 L637.05,274.89 L636.36,275.14 L635.67,275.41 L634.99,275.69 L634.31,275.98 L633.64,276.29 L632.98,276.61 L632.34,276.95 L631.71,277.32 L631.09,277.71 L630.48,278.14 L629.90,278.60 L629.34,279.11 L628.83,279.62 L628.36,280.15 L627.92,280.68 L627.50,281.21 L627.10,281.74 L626.72,282.24 L626.35,282.73 L625.98,283.20 L625.62,283.63 L625.23,284.07 L624.81,284.54 L624.40,285.03 L624.03,285.51 L623.68,285.96 L623.35,286.39 L623.02,286.79 L622.70,287.17 L622.37,287.51 L622.02,287.83 L621.64,288.13 L621.21,288.41 L620.72,288.69 L620.12,288.98 L619.44,289.28 L618.71,289.58 L617.94,289.86 L617.13,290.14 L616.30,290.39 L615.45,290.62 L614.59,290.81 L613.74,290.97 L612.89,291.10 L612.08,291.17 L611.29,291.20 L610.49,291.18 L609.64,291.12 L608.75,291.02 L607.85,290.88 L606.93,290.70 L606.03,290.49 L605.13,290.26 L604.26,290.00 L603.43,289.71 L602.65,289.42 L601.93,289.11 L601.30,288.80 L600.78,288.49 L600.32,288.16 L599.90,287.79 L599.49,287.37 L599.10,286.92 L598.72,286.43 L598.32,285.91 L597.92,285.36 L597.49,284.79 L597.03,284.21 L596.53,283.63 L595.99,283.09 L595.48,282.60 L594.99,282.13 L594.49,281.65 L593.99,281.18 L593.48,280.70 L592.96,280.22 L592.41,279.75 L591.85,279.29 L591.27,278.83 L590.67,278.38 L590.03,277.95 L589.38,277.54 L588.73,277.16 L588.08,276.80 L587.41,276.45 L586.74,276.11 L586.05,275.79 L585.33,275.47 L584.59,275.17 L583.82,274.88 L583.03,274.61 L582.20,274.34 L581.33,274.09 L580.41,273.85 L579.44,273.62 L578.41,273.42 L577.35,273.22 L576.26,273.05 L575.14,272.89 L574.00,272.73 L572.85,272.59 L571.70,272.45 L570.55,272.31 L569.42,272.18 L568.30,272.05 L567.21,271.91 L566.08,271.77 L564.88,271.63 L563.63,271.53 L562.35,271.48 L561.07,271.49 L559.82,271.55 L558.60,271.64 L557.45,271.76 L556.39,271.88 L555.45,272.01 L554.64,272.11 L554.00,272.20 Z" fill="#a4bcec"/>
 <g fill="#f0b400" stroke="#f6d860" stroke-width="0.6"><circle cx="604.7" cy="281.3" r="2.7"/><circle cx="612.1" cy="280.1" r="2.7"/><circle cx="609.2" cy="286.3" r="2.7"/><circle cx="617.9" cy="284.6" r="2.7"/></g>
 <circle cx="617.8" cy="275" r="2.8" fill="#a9de88"/><circle cx="606.3" cy="276" r="2.5" fill="#ecd498"/>
</g>

<!-- exosomes -->
<g>
 <ellipse cx="241.4" cy="337.6" rx="18.6" ry="17" fill="#f9e8f2" stroke="#b88089" stroke-width="5.3"/>
 <ellipse cx="241.4" cy="337.6" rx="18.6" ry="17" fill="none" stroke="#eaaab4" stroke-width="3"/>
 <g fill="#7fd63c" stroke="#5cb82c" stroke-width="1"><circle cx="240.9" cy="329.3" r="3.4"/><circle cx="236" cy="336.5" r="3.4"/><circle cx="245.2" cy="336.5" r="3.4"/><circle cx="238.7" cy="345.8" r="3.4"/></g>
 <circle cx="230.5" cy="337.5" r="3" fill="#d6e8b0"/>
</g>
<g>
 <ellipse cx="433.4" cy="339" rx="18.2" ry="17.1" fill="#f7f8fc" stroke="#8c9cbe" stroke-width="5.3"/>
 <ellipse cx="433.4" cy="339" rx="18.2" ry="17.1" fill="none" stroke="#c6d2e8" stroke-width="3"/>
 <g fill="#b4e27c"><circle cx="423.7" cy="339" r="3.5"/><circle cx="431.5" cy="347.4" r="3.5"/><circle cx="441" cy="343.8" r="3.5"/></g>
 <path d="M419,335.5 C423,333 427,333.5 430,332.5 C434,331.5 438,332.5 443,330" stroke="#b7acd4" stroke-width="0.8" fill="none"/>
 <path d="M438.5,327.5 L437.5,329.5 L438.5,330.5 L436.5,332 L437,333.5 L435,335 L435.5,336.5 L433.5,338 L432.5,339.5 L430.5,341 L428.5,342 L426,343 L423,344" stroke="#8e80b8" stroke-width="0.9" fill="none"/>
 <path d="M425,347.5 C429,344 433,341 437.5,339 C441,337.5 444,336 447,335" stroke="#a89cc8" stroke-width="0.8" fill="none"/>
</g>
<g>
 <ellipse cx="619.5" cy="336.6" rx="17.9" ry="15.8" fill="#e9edf7" stroke="#6c8ccf" stroke-width="5.3"/>
 <ellipse cx="619.5" cy="336.6" rx="17.9" ry="15.8" fill="none" stroke="#a9c0ee" stroke-width="3"/>
 <g fill="#a8e08c"><circle cx="610.2" cy="338.9" r="3.3"/><circle cx="617.4" cy="347.3" r="3.3"/><circle cx="626.9" cy="343.7" r="3.3"/></g>
 <g fill="#f4bc0a" stroke="#e6a800" stroke-width="0.8"><circle cx="610.8" cy="332.4" r="3.6"/><circle cx="622.1" cy="331.2" r="3.6"/><circle cx="618" cy="340.1" r="3.6"/><circle cx="630.5" cy="337.7" r="3.6"/></g>
</g>

<!-- icons -->
<ellipse cx="158.2" cy="120.2" rx="13.8" ry="12.8" fill="#8fe05a" stroke="#5cb83a" stroke-width="2"/>
<g>
 <g stroke="#6a5a8c" stroke-width="0.8"><line x1="350" y1="124.4" x2="349.7" y2="108"/><line x1="350" y1="124.4" x2="349.5" y2="140.6"/><line x1="350" y1="124.4" x2="335.5" y2="113.9"/><line x1="350" y1="124.4" x2="364" y2="114.8"/><line x1="350" y1="124.4" x2="335.3" y2="134.2"/><line x1="350" y1="124.4" x2="363.5" y2="134.7"/></g>
 <g fill="#5d4a80"><circle cx="349.7" cy="108" r="1.3"/><circle cx="349.5" cy="140.6" r="1.3"/><circle cx="335.5" cy="113.9" r="1.3"/><circle cx="364" cy="114.8" r="1.3"/><circle cx="335.3" cy="134.2" r="1.3"/><circle cx="363.5" cy="134.7" r="1.3"/></g>
 <ellipse cx="350" cy="124.4" rx="14" ry="13" fill="#8d70c2"/>
 <ellipse cx="350" cy="124.4" rx="11.2" ry="10.3" fill="#c3afe6"/>
 <ellipse cx="350" cy="124.4" rx="9.6" ry="8.8" fill="#b49ddd"/>
 <path d="M354.5,116.5 L353,118.5 L354,119.5 L351.5,121 L352.5,122.5 L350,124 L351,125.5 L348.5,127 L349.5,128.5 L347,130 L346,132" stroke="#7a5fae" stroke-width="0.9" fill="none"/>
</g>
<g>
 <ellipse cx="537.5" cy="122.5" rx="16.3" ry="14.8" fill="#fff1a0" opacity="0.7"/>
 <ellipse cx="537.5" cy="122.5" rx="14.8" ry="13.2" fill="#dca400"/>
 <ellipse cx="536.8" cy="121.6" rx="13.4" ry="11.8" fill="url(#np)"/>
 <ellipse cx="531.5" cy="115" rx="2.6" ry="1.8" fill="#fde878" opacity="0.9"/>
</g>

<!-- left lung -->
<g>
 <path d="M1,145 C4,142 8,141.5 11,143.5 L13.4,141 C15.5,142 16.5,145 16,148 C15,153 13.5,158 12.3,164.5 L11.5,168 L11.5,252 L1,254 Z" fill="#b1b8cc"/>
 <g stroke="#8e96b3" stroke-width="1.4"><line x1="1" y1="169" x2="11" y2="169"/><line x1="1" y1="174.6" x2="11" y2="174.6"/><line x1="1" y1="180.2" x2="11" y2="180.2"/><line x1="1" y1="185.8" x2="11" y2="185.8"/><line x1="1" y1="191.4" x2="11" y2="191.4"/><line x1="1" y1="197" x2="11" y2="197"/><line x1="1" y1="202.6" x2="11" y2="202.6"/><line x1="1" y1="208.2" x2="11" y2="208.2"/><line x1="1" y1="213.8" x2="11" y2="213.8"/><line x1="1" y1="219.4" x2="11" y2="219.4"/><line x1="1" y1="225" x2="11" y2="225"/><line x1="1" y1="230.6" x2="11" y2="230.6"/><line x1="1" y1="236.2" x2="11" y2="236.2"/><line x1="1" y1="241.8" x2="11" y2="241.8"/><line x1="1" y1="247.4" x2="11" y2="247.4"/></g>
 <path d="M24.7,194.4 C27.3,194.4 31.5,195.4 35.3,197.1 C39.1,198.8 43.6,201.9 47.4,204.7 C51.2,207.5 54.7,210.5 58.0,213.8 C61.3,217.1 64.3,220.6 67.1,224.4 C69.9,228.2 72.7,232.5 74.7,236.5 C76.7,240.5 77.7,244.2 79.2,248.6 C80.7,253.0 82.2,258.3 83.5,263.0 C84.8,267.7 85.9,272.3 87.0,277.0 C88.1,281.7 89.2,285.7 90.0,291.0 C90.8,296.3 91.5,302.6 91.9,308.6 C92.3,314.6 92.9,321.9 92.5,327.2 C92.1,332.5 91.6,339.2 89.4,340.2 C87.2,341.2 83.4,336.0 79.5,333.4 C75.6,330.8 70.1,326.9 65.8,324.7 C61.4,322.5 57.5,321.3 53.4,320.4 C49.3,319.5 44.7,319.7 41.0,319.2 C37.3,318.7 33.4,318.1 31.1,317.3 C28.8,316.5 28.6,315.2 27.4,314.2 C26.2,313.2 25.7,312.2 24.0,311.5 C22.3,310.8 18.8,311.0 17.4,309.9 C16.0,308.8 15.7,307.2 15.6,304.9 C15.5,302.6 16.3,298.7 16.8,296.2 C17.3,293.7 18.6,293.0 18.7,290.0 C18.8,287.0 18.1,282.7 17.5,278.0 C16.9,273.3 15.7,267.4 15.0,262.0 C14.3,256.6 13.6,250.8 13.3,245.6 C13.0,240.3 13.1,235.6 13.3,230.5 C13.5,225.4 13.9,219.6 14.4,215.3 C14.9,211.0 15.6,207.7 16.4,204.7 C17.2,201.7 18.0,198.8 19.4,197.1 C20.8,195.4 22.1,194.4 24.7,194.4 Z" fill="#e0ccca"/>
 <path d="M16,205 C18,200 22,197 25,198 C23,205 22,215 21,225 C18,222 16,215 16,205 Z" fill="#e3c4c4"/>
 <path d="M21.0,216.0 C22.7,213.0 26.8,213.7 30.0,214.0 C33.2,214.3 36.7,216.0 40.0,218.0 C43.3,220.0 46.7,223.0 50.0,226.0 C53.3,229.0 57.0,232.3 60.0,236.0 C63.0,239.7 65.7,243.7 68.0,248.0 C70.3,252.3 72.3,257.0 74.0,262.0 C75.7,267.0 77.0,273.0 78.0,278.0 C79.0,283.0 81.0,288.8 80.0,292.0 C79.0,295.2 75.3,295.7 72.0,297.0 C68.7,298.3 64.0,300.0 60.0,300.0 C56.0,300.0 51.3,299.0 48.0,297.0 C44.7,295.0 42.7,291.5 40.0,288.0 C37.3,284.5 34.3,280.3 32.0,276.0 C29.7,271.7 27.7,266.7 26.0,262.0 C24.3,257.3 23.0,253.0 22.0,248.0 C21.0,243.0 20.2,237.3 20.0,232.0 C19.8,226.7 19.3,219.0 21.0,216.0 Z" fill="#d5c0c0"/>
 <path d="M31,317 C45,312 60,304 75,296 C82,292 88,290 91,289" stroke="#dcc6c5" stroke-width="1" fill="none"/>
 <path d="M1,251 L12,252.5 L24,255 L32,260 L30,264 L20,262 L10,262 L1,262 Z" fill="#c6c6d6" opacity="0.7"/>
 <g stroke="#cdbfc8" stroke-width="1.3" fill="none" opacity="0.9">
  <path d="M30,260 L40,262 L52,270 L62,282 L70,292"/>
  <path d="M40,262 L38,250 L35,236 L32,226"/>
  <path d="M52,270 L60,262 L70,258"/>
  <path d="M52,270 L48,282 L46,292"/>
  <path d="M62,282 L72,276 L80,272"/>
  <path d="M38,250 L45,240 L50,230"/>
 </g>
 <g filter="url(#soft)"><circle cx="23.8" cy="245.9" r="5.7" fill="#736768"/>
 <path d="M54.1,234.2 C55.9,234.1 58.2,234.5 60.0,235.0 C61.8,235.5 63.0,235.9 64.6,237.0 C66.2,238.1 68.2,239.8 69.5,241.5 C70.8,243.2 72.1,245.3 72.7,247.0 C73.3,248.7 73.2,250.1 73.3,251.5 C73.4,252.9 73.5,254.2 73.1,255.6 C72.7,257.0 71.8,258.7 70.8,260.0 C69.8,261.3 68.9,262.4 67.4,263.2 C65.9,264.0 63.7,264.4 62.0,264.6 C60.3,264.8 58.8,264.7 57.0,264.4 C55.2,264.1 52.8,263.5 51.0,262.8 C49.2,262.1 47.8,261.6 46.5,260.4 C45.2,259.2 44.0,257.2 43.2,255.5 C42.4,253.8 41.8,251.8 41.7,249.9 C41.6,248.0 42.2,245.8 42.8,244.0 C43.4,242.2 44.4,240.8 45.5,239.4 C46.6,238.0 48.1,236.6 49.5,235.7 C50.9,234.8 52.4,234.3 54.1,234.2 Z" fill="#75696b"/>
 <path d="M43.0,293.5 C44.7,292.5 47.5,291.8 50.0,291.8 C52.5,291.8 56.0,292.3 58.0,293.5 C60.0,294.7 61.7,297.0 62.3,299.0 C62.9,301.0 62.7,303.8 61.5,305.5 C60.3,307.2 57.6,308.5 55.0,309.0 C52.4,309.5 48.4,309.3 46.0,308.5 C43.6,307.7 41.5,305.8 40.5,304.0 C39.5,302.2 39.4,299.8 39.8,298.0 C40.2,296.2 41.3,294.5 43.0,293.5 Z" fill="#75696b"/></g>
</g>

<!-- right lung -->
<g>
 <path d="M791.5,141.2 C792.5,141 793.3,142.5 794,144.8 C795.5,143 797,141.8 798.6,141.8 C800.5,141.8 802.5,142.5 803.5,144 L803.5,252 C801.5,255 798,257 793,257.5 L790.5,249 C794,247.5 796.5,246 796.6,243 L796.6,164.5 C795,162 793.5,160.5 792.5,158.5 C790.5,156 789,153 789.2,150 C789.5,147 790.5,143.5 791.5,141.2 Z" fill="#a9b9db"/>
 <g stroke="#92a4cd" stroke-width="1.6"><line x1="797" y1="166" x2="803" y2="166"/><line x1="797" y1="171.6" x2="803" y2="171.6"/><line x1="797" y1="177.2" x2="803" y2="177.2"/><line x1="797" y1="182.8" x2="803" y2="182.8"/><line x1="797" y1="188.4" x2="803" y2="188.4"/><line x1="797" y1="194" x2="803" y2="194"/><line x1="797" y1="199.6" x2="803" y2="199.6"/><line x1="797" y1="205.2" x2="803" y2="205.2"/><line x1="797" y1="210.8" x2="803" y2="210.8"/><line x1="797" y1="216.4" x2="803" y2="216.4"/><line x1="797" y1="222" x2="803" y2="222"/><line x1="797" y1="227.6" x2="803" y2="227.6"/><line x1="797" y1="233.2" x2="803" y2="233.2"/><line x1="797" y1="238.8" x2="803" y2="238.8"/><line x1="797" y1="244.4" x2="803" y2="244.4"/></g>
 <path d="M775.0,190.5 C777.3,190.8 780.8,192.3 782.8,193.7 C784.8,195.1 786.0,196.0 787.1,198.9 C788.2,201.8 789.0,206.1 789.7,211.0 C790.4,215.9 790.9,222.8 791.5,228.3 C792.1,233.8 792.5,239.3 793.2,243.9 C793.9,248.5 794.9,251.7 795.5,256.0 C796.1,260.4 796.4,265.8 796.8,270.0 C797.1,274.2 797.6,276.4 797.6,281.0 C797.6,285.6 797.4,292.2 796.5,297.3 C795.6,302.4 794.1,308.3 792.4,311.7 C790.7,315.1 789.3,316.0 786.2,317.9 C783.1,319.8 778.7,321.4 773.9,323.0 C769.1,324.6 762.5,325.6 757.4,327.2 C752.2,328.8 748.1,330.6 743.0,332.3 C737.9,334.0 730.9,336.7 726.6,337.4 C722.3,338.1 719.2,337.9 717.3,336.4 C715.4,334.9 715.3,332.3 715.3,328.2 C715.3,324.1 716.6,317.9 717.3,311.7 C718.0,305.5 718.5,298.0 719.4,291.2 C720.3,284.4 721.2,276.2 722.5,270.6 C723.8,265.0 725.3,262.5 727.3,257.8 C729.3,253.1 731.7,247.4 734.3,242.2 C736.9,237.0 740.0,231.5 742.9,226.6 C745.8,221.7 748.7,217.0 751.6,212.7 C754.5,208.4 757.4,204.1 760.3,200.6 C763.2,197.1 766.4,193.6 768.9,191.9 C771.4,190.2 772.7,190.2 775.0,190.5 Z" fill="#eac0c4"/>
 <path d="M784.5,199.5 C785.8,199.6 787.1,200.9 788.0,203.0 C788.9,205.1 789.5,208.8 789.8,212.0 C790.0,215.2 789.9,220.5 789.5,222.5 C789.1,224.5 788.7,224.8 787.5,224.0 C786.3,223.2 783.8,220.3 782.5,218.0 C781.2,215.7 779.8,212.6 779.5,210.0 C779.2,207.4 779.7,204.2 780.5,202.5 C781.3,200.8 783.2,199.4 784.5,199.5 Z" fill="#d99aa2"/>
 <path d="M724,270.4 C729,275 733,278 738,279 C746,280.5 756,281 764,280.8 C774,280 783,276 790,272" stroke="#dba9ae" stroke-width="0.9" fill="none"/>
 <path d="M720.7,301.6 C725,308 729,312 734.5,315.5 C741,319 748,322 755.3,322.4 C764,322.5 772,320 777.9,317.2 C784,314 789,310 791.7,306.8" stroke="#dba9ae" stroke-width="0.9" fill="none"/>
 <g stroke="#b0a9cf" fill="none" stroke-linecap="round" stroke-linejoin="round">
  <path d="M794,251 L781,252.5 L769.5,252 L768.5,238 L768.5,229" stroke-width="4.4"/>
  <path d="M781,252.5 L778,262 L769.2,272 L766,282.5 L764,293 L757,306.8" stroke-width="3.6"/>
  <path d="M769.5,252 L757,246 L746.5,241.5" stroke-width="2.6"/>
  <path d="M769.5,252 L755,256 L744.5,251" stroke-width="2.4"/>
  <path d="M769.2,272 L758,272 L745,273.9" stroke-width="2.6"/>
  <path d="M764,293 L752,291 L741.5,293" stroke-width="2.4"/>
  <path d="M764,293 L772.7,299.9" stroke-width="2.2"/>
  <path d="M757,306.8 L748.4,299.9" stroke-width="2"/>
  <path d="M768.5,229 L765.5,223 M768.5,229 L771,221.5 M768.5,238 L775.5,231 M757,246 L753,238.5 M755,256 L751,258.5 M758,272 L753,266 M752,291 L749,285 M757,306.8 L752,310 M757,306.8 L758.5,312 M745,273.9 L740,271 M741.5,293 L737,289" stroke-width="1.6"/>
 </g>
</g>
</svg>

<div class="frame"></div>

<!-- title -->
<div class="t" style="left:201.5px;top:9px;letter-spacing:0.28px;">Future prospects of stem cells based therapy in</div>
<div class="t" style="left:328.5px;top:34.5px;letter-spacing:0.45px;">COVID-19 infection</div>

<!-- header boxes -->
<div class="hbox" style="left:152px;top:73px;width:169px;height:30.5px;"></div>
<div class="hbox" style="left:327px;top:73px;width:359px;height:30.5px;"></div>
<div class="hl" style="left:213.5px;top:79.5px;letter-spacing:1px;">MSCs</div>
<div class="hl" style="left:438.5px;top:79.5px;letter-spacing:0.2px;">Engineered MSCs</div>

<!-- vertical label boxes -->
<div class="hbox" style="left:98px;top:113px;width:37px;height:151px;"></div>
<div class="hbox" style="left:99px;top:299px;width:37px;height:153px;"></div>
<div class="vl" style="left:109.5px;top:241px;transform:rotate(-90deg) scale(0.815,1);">Adult stem cells</div>
<div class="vl" style="left:109.5px;top:444px;transform:rotate(-90deg) scale(0.832,1);">Stem cell dervatives</div>

<!-- texts top -->
<div class="p" style="left:176.5px;top:106.4px;width:144px;">
<div class="j">Adult stem cells contain a</div>
<div class="j">wide range of cytokines in</div>
<div class="j">which it can modulate the</div>
<div class="j">immune response, have</div>
<div class="j" style="width:137.5px;">anti-inflmmatory effect, an</div>
<div class="j" style="width:138px;">help in tissue regenration a</div>
<div>well.</div>
</div>
<div class="p" style="left:368.5px;top:106px;width:137px;">
<div class="j">Stem cells can be also</div>
<div class="j">transfected with some</div>
<div class="j">genetic codes that can</div>
<div class="j">enhances its regenrative</div>
<div>capacit.</div>
<div class="j" style="font-size:10.3px;margin-top:-0.2px;-webkit-text-stroke:0.2px #5c5c5c;">e.g. ACE2 engineered</div>
<div style="font-size:9.8px;height:12.6px;line-height:12.6px;margin-top:0.8px;-webkit-text-stroke:0.1px #5c5c5c;">UC-MSCs</div>
</div>
<div class="p" style="left:554.5px;top:107.5px;width:131.5px;">
<div class="j">Nanoparticels (NPs) have</div>
<div class="j">been involved in the viral</div>
<div class="j" style="width:104px;">infection control.</div>
<div class="j">e.g. Qdots has antiviral</div>
<div class="j">effect on human</div>
<div>coronavirus&nbsp; HCoV-229E</div>
</div>

<!-- texts bottom -->
<div class="p" style="left:170.5px;top:364.8px;width:150.5px;">
<div class="j">Exosome contains the same</div>
<div class="j">cytokines as their parent</div>
<div class="j">cells. Also, it will have an</div>
<div class="j">advantage over stem cells as</div>
<div class="j">1- they have a nanosize and 2-</div>
<div>they lack nucleus.</div>
</div>
<div class="p" style="left:350.5px;top:363px;width:166px;line-height:13.6px;">
<div class="j">Exosome derived from</div>
<div class="j">engineered MSCs will be</div>
<div class="j">enriched with trageted growth</div>
<div class="j">factors and cytokines. In adition</div>
<div class="j">to the inherited ones from the</div>
<div>parent cells.</div>
</div>
<div class="p" style="left:540.5px;top:363px;width:158.5px;">
<div class="j">Exosomes can be enriched with</div>
<div class="j">NPs as well in order to give</div>
<div class="j">potent antiviral effect in</div>
<div class="j">addition to the abundant</div>
<div class="j">cytokines derived from their</div>
<div>partent cells.</div>
</div>
</body></html>
